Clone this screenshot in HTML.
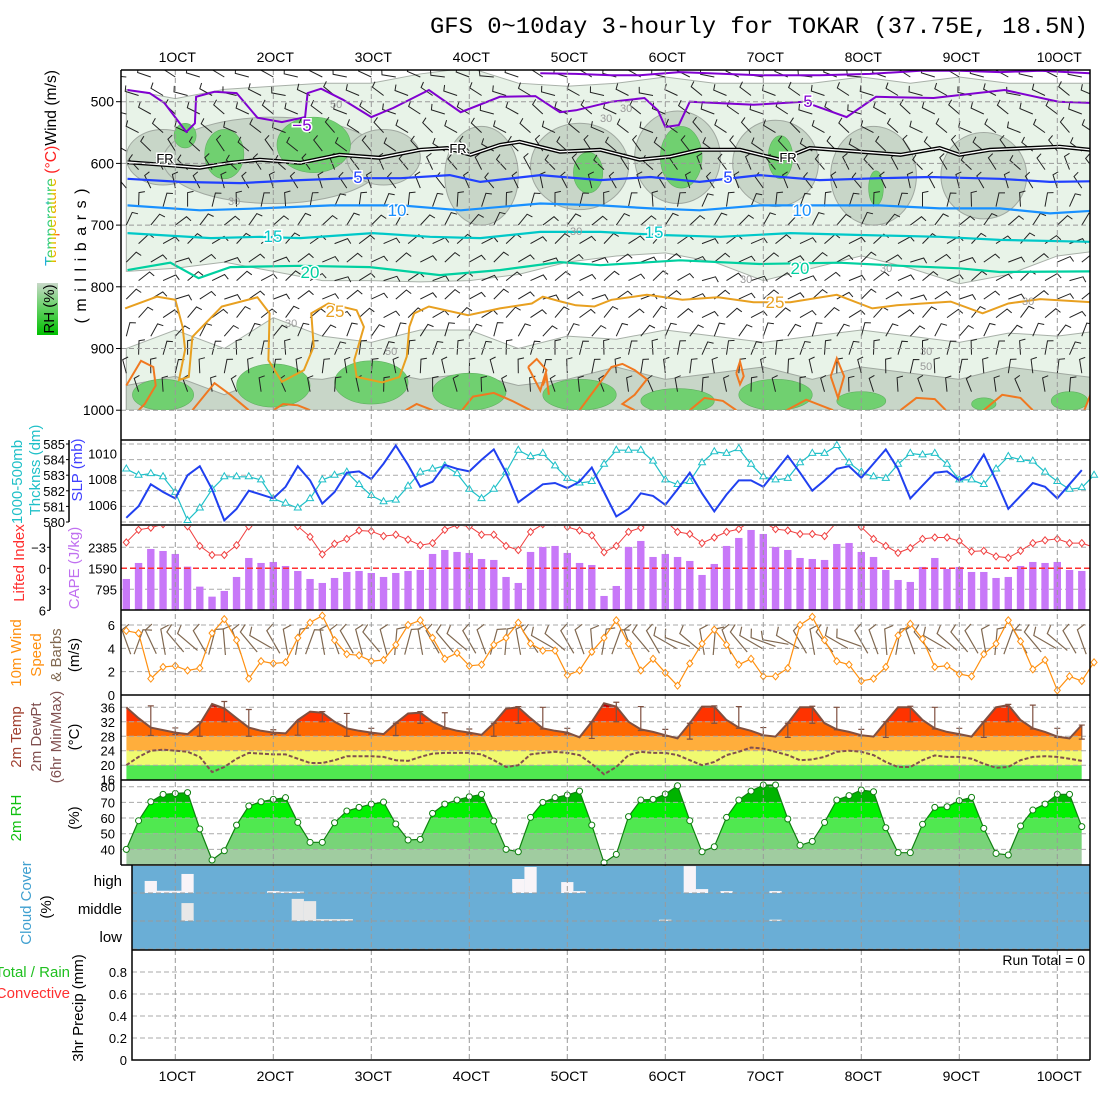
<!DOCTYPE html>
<html><head><meta charset="utf-8"><style>
html,body{margin:0;padding:0;background:#fff}
svg{display:block;font-family:"Liberation Sans",sans-serif}
</style></head><body>
<svg id="chart" width="1100" height="1100" viewBox="0 0 1100 1100" xmlns="http://www.w3.org/2000/svg">
<defs>
<clipPath id="c1"><rect x="121" y="70" width="969" height="340"/></clipPath>
<clipPath id="c3"><rect x="121" y="526" width="969" height="84"/></clipPath>
<linearGradient id="rhg" x1="0" x2="0" y1="1" y2="0"><stop offset="0" stop-color="#00c000"/><stop offset="0.5" stop-color="#60d060"/><stop offset="1" stop-color="#c8d8c8"/></linearGradient>
<linearGradient id="rainbow" x1="0" x2="0" y1="1" y2="0"><stop offset="0" stop-color="#ff3030"/><stop offset="0.25" stop-color="#ff9900"/><stop offset="0.45" stop-color="#c8d800"/><stop offset="0.65" stop-color="#30d070"/><stop offset="0.85" stop-color="#20b0e0"/><stop offset="1" stop-color="#3050ff"/></linearGradient>
</defs>
<rect width="1100" height="1100" fill="#fff"/>
<text x="430" y="33" font-family="Liberation Mono, monospace" font-size="23" textLength="658" lengthAdjust="spacingAndGlyphs">GFS 0~10day 3-hourly for TOKAR (37.75E, 18.5N)</text>
<g id="g1" clip-path="url(#c1)"></g>
<g id="g2"></g>
<g id="g3"></g>
<g id="g4"></g>
<g id="g5"></g>
<g id="g6"></g>
<g id="g7"></g>
<g id="g8"></g>
<g id="gx"></g>
<g id="gl">
 <rect x="37" y="283" width="21" height="52" fill="url(#rhg)"/>
 <text transform="rotate(-90 54 309)" x="54" y="309" text-anchor="middle" font-size="15">RH (%)</text>
 <text transform="rotate(-90 56 168)" x="56" y="168" text-anchor="middle" font-size="16" textLength="196" lengthAdjust="spacingAndGlyphs"><tspan fill="url(#rainbow)">Temperature</tspan><tspan fill="#ff2020"> (°C)</tspan><tspan fill="#000">Wind (m/s)</tspan></text>
 <text transform="rotate(-90 86 256)" x="86" y="256" text-anchor="middle" font-size="16" textLength="135" lengthAdjust="spacing">(millibars)</text>
 <text transform="rotate(-90 22 482)" x="22" y="482" text-anchor="middle" font-size="15" fill="#20c0c8">1000-500mb</text>
 <text transform="rotate(-90 40 470)" x="40" y="470" text-anchor="middle" font-size="15" fill="#20c0c8">Thcknss (dm)</text>
 <text transform="rotate(-90 82 470)" x="82" y="470" text-anchor="middle" font-size="15" fill="#4040ff">SLP (mb)</text>
 <text transform="rotate(-90 24 563)" x="24" y="563" text-anchor="middle" font-size="15" fill="#ff3030">Lifted Index</text>
 <text transform="rotate(-90 79 568)" x="79" y="568" text-anchor="middle" font-size="15" fill="#c070f0">CAPE (J/kg)</text>
 <text transform="rotate(-90 21 653)" x="21" y="653" text-anchor="middle" font-size="15" fill="#ff9010">10m Wind</text>
 <text transform="rotate(-90 41 655)" x="41" y="655" text-anchor="middle" font-size="15" fill="#ff9010">Speed</text>
 <text transform="rotate(-90 61 655)" x="61" y="655" text-anchor="middle" font-size="15" fill="#806850">&amp; Barbs</text>
 <text transform="rotate(-90 79 655)" x="79" y="655" text-anchor="middle" font-size="15">(m/s)</text>
 <text transform="rotate(-90 21 737)" x="21" y="737" text-anchor="middle" font-size="15" fill="#a04030">2m Temp</text>
 <text transform="rotate(-90 41 737)" x="41" y="737" text-anchor="middle" font-size="15" fill="#805050">2m DewPt</text>
 <text transform="rotate(-90 61 737)" x="61" y="737" text-anchor="middle" font-size="15" fill="#805050">(6hr Min/Max)</text>
 <text transform="rotate(-90 79 737)" x="79" y="737" text-anchor="middle" font-size="15">(°C)</text>
 <text transform="rotate(-90 21 818)" x="21" y="818" text-anchor="middle" font-size="15" fill="#10c010">2m RH</text>
 <text transform="rotate(-90 79 818)" x="79" y="818" text-anchor="middle" font-size="15">(%)</text>
 <text transform="rotate(-90 31 903)" x="31" y="903" text-anchor="middle" font-size="15" fill="#40a0d0">Cloud Cover</text>
 <text transform="rotate(-90 51 907)" x="51" y="907" text-anchor="middle" font-size="15">(%)</text>
 <text x="70" y="977" text-anchor="end" font-size="15" fill="#20c020">Total / Rain</text>
 <text x="70" y="998" text-anchor="end" font-size="15" fill="#ff3030">Convective</text>
 <text transform="rotate(-90 83 1008)" x="83" y="1008" text-anchor="middle" font-size="15">3hr Precip (mm)</text>
 <text x="1085" y="965" text-anchor="end" font-size="14">Run Total = 0</text>
</g>
</svg>
<script>
// ---- data ----
const dayLabels = ["1OCT","2OCT","3OCT","4OCT","5OCT","6OCT","7OCT","8OCT","9OCT","10OCT"];
const slp = [1005.0,1005.9,1007.6,1007.0,1006.5,1008.3,1009.0,1007.2,1004.8,1005.7,1007.1,1006.8,1006.5,1007.4,1009.0,1007.9,1006.1,1007.0,1008.5,1008.6,1008.0,1009.2,1010.6,1009.1,1007.4,1007.8,1009.1,1008.8,1008.6,1009.5,1010.3,1008.5,1006.2,1006.9,1007.6,1007.7,1007.3,1007.8,1008.9,1007.0,1005.1,1005.7,1006.9,1006.7,1006.0,1007.2,1008.5,1006.9,1005.5,1006.8,1007.9,1007.9,1007.4,1008.6,1009.8,1008.5,1007.1,1007.9,1008.8,1009.0,1008.1,1009.2,1010.3,1008.8,1006.5,1007.5,1008.5,1008.6,1007.9,1008.4,1009.9,1007.9,1005.7,1006.7,1007.7,1007.4,1006.5,1007.6,1008.7];
const thick = [583.4,583.0,583.1,582.9,581.9,580.1,580.9,582.1,582.9,582.9,582.9,582.7,581.5,581.2,580.9,581.5,582.7,583.0,583.2,582.4,581.7,581.3,581.4,582.3,583.2,583.4,583.6,583.1,582.1,581.5,582.1,583.2,584.6,584.2,584.4,583.6,582.8,582.5,582.6,583.7,584.6,584.6,584.6,583.9,582.7,582.4,582.6,583.8,584.5,584.4,584.7,583.7,582.9,582.7,582.8,583.8,584.4,584.4,584.9,583.8,583.2,582.9,582.8,583.7,584.4,584.3,584.4,583.7,582.7,582.7,582.4,583.4,584.2,584.0,583.9,583.2,582.6,582.1,582.2,583.0];
const cape = [1186,1792,2322,2246,2133,1653,896,517,732,1262,1981,1792,1830,1678,1489,1186,1035,1224,1451,1489,1413,1262,1413,1489,1527,2133,2284,2209,2171,1943,1906,1262,1035,2209,2398,2436,2171,1792,1716,543,921,2398,2625,2019,2133,2019,1868,1338,1754,2436,2739,3041,2890,2398,2284,1981,1943,1906,2511,2549,2209,2019,1527,1148,1073,1641,1981,1565,1641,1451,1451,1224,1262,1678,1830,1792,1830,1527,1489];
const liftedIndex = [-3.7,-5.5,-5.8,-6.3,-6.6,-6.0,-3.2,-1.9,-1.9,-3.3,-6.0,-6.8,-6.8,-6.8,-6.0,-4.5,-2.0,-3.5,-4.2,-5.4,-5.3,-4.6,-4.8,-4.1,-3.3,-3.6,-5.5,-6.2,-6.0,-4.8,-4.8,-3.2,-2.6,-5.2,-6.3,-6.6,-5.9,-5.4,-4.7,-2.3,-3.2,-5.2,-5.8,-6.8,-6.8,-5.2,-4.9,-3.6,-4.4,-5.2,-5.6,-6.8,-6.6,-5.6,-5.4,-4.9,-4.9,-4.6,-6.6,-6.6,-5.9,-4.2,-3.2,-2.2,-2.9,-4.2,-4.4,-4.4,-3.9,-2.4,-2.5,-1.7,-1.5,-2.5,-3.6,-4.0,-4.2,-3.6,-3.6,-3.0];
const windSpeed = [5.5,5.3,1.4,2.4,2.5,2.1,2.3,5.3,6.5,4.7,1.4,2.9,2.7,2.8,4.9,6.2,6.8,4.7,3.5,3.4,2.9,3.0,4.3,6.0,6.4,4.9,3.1,3.6,2.5,2.6,4.3,4.9,6.2,4.4,3.8,3.8,1.7,2.1,3.7,4.9,6.4,4.4,2.1,3.1,1.9,0.8,2.7,4.4,5.6,4.3,2.6,3.1,1.6,1.6,2.3,6.0,6.7,4.7,2.9,2.6,1.2,1.4,2.4,5.1,6.1,4.8,2.4,2.5,1.8,1.6,3.5,4.4,6.4,4.6,2.2,3.0,0.4,1.6,1.2,2.8];
const windDir = [340,20,335,350,320,310,330,15,355,340,320,300,330,350,10,20,350,340,330,345,320,345,5,15,350,330,320,310,330,340,15,5,350,325,300,310,330,340,355,10,20,340,320,330,300,290,310,350,5,340,320,300,290,280,300,330,350,320,300,290,330,340,355,10,340,320,300,310,320,330,350,5,20,330,320,300,310,330,340];
const temp2m = [36,33,30.4,29.7,29,28.6,31.4,36.9,35.7,33,30.4,29.5,29,28.8,32.5,34.8,34.5,32,30.2,29.5,29,28.6,31.6,34.3,34.5,32,30.4,29.5,29,28.4,31.6,35.6,36,33,30.2,29.5,29,27.7,32,37.1,36.2,32,29.9,29.2,28.3,27.4,31.6,36.2,36.2,32.5,30.4,29.5,28.3,27.9,31.6,36,36,31.6,29.9,29.2,28.3,27.9,32,36,36,32.5,30.2,29.2,28.6,27.9,32,36,36.6,32.5,30.2,29.2,27.9,27.4,31.1];
const dewpt2m = [20,22.3,24,24.3,24,23.7,22.3,18.1,19.5,21.8,23.4,23.2,23,23,21.8,20.6,20.6,21.4,22.5,22.5,22.5,22.3,21.4,21.2,22.3,23.2,23.4,23.4,23.4,23,21.4,19.5,20,23,23.4,23.7,23.4,22.8,20.4,17.5,19.5,22.8,23.7,23.4,23.4,22.8,21.4,20,20.9,22.8,23.7,24.9,24.6,23.7,22.8,21.4,21.6,22.3,23.7,24,23.7,22.8,20.9,19.5,19.5,21.4,22.7,22.3,22.3,21.8,20.4,19.3,19.5,21.4,22.3,22.5,22.3,21.8,21.2];
const tmax6 = [36.4,30.3,32,37.6,35.4,29.8,32,34.8,34.3,30.2,31.6,34.8,34.5,30,31.6,36.2,36,30.2,32,37.4,36.2,29.9,31.6,36.4,36.2,30.4,31.6,36.3,36,29.9,32,36.3,36,30.2,32,36.8,36.6,30.2,31.1];
const tmin6 = [28.2,28.5,28,32,28,28.5,28.3,32,28,28.6,28.2,31.6,30,28.6,28,31.6,30,28.6,27.4,32,29.6,28,27.2,31.6,30.2,28.2,27.7,31.6,29.8,28.1,27.7,32,30,28.4,27.7,32,30,27.7,27.2];
const rh2m = [40,58.3,70.4,75.1,75.7,76.2,53,33.2,39.1,55.5,67.7,70.4,71.9,73,57.2,44.5,44.5,57,64.5,66.8,68.9,70.2,56.2,46,46.4,63,68.9,71.5,73.6,75.1,58.1,40,38.5,60.4,70,73,74.7,77.2,55.5,31.5,36.8,60.9,71.5,71.9,75.3,80.6,58.3,38.5,41.7,60.4,71.5,77.2,81.1,81.1,59.4,42.6,45.1,57.2,71.5,74.3,77.9,76.8,53.8,37.9,37.9,56,66.8,67.2,71.1,73.2,53.4,37.4,36.4,54.9,65.1,68.9,75.1,75.1,54.5];
const cloudHigh = [0,0,43,8,8,68,0,0,0,0,0,0,7,5,5,0,0,0,0,0,0,0,0,0,0,0,0,0,0,0,0,0,50,93,0,0,39,7,0,0,0,0,0,0,0,0,96,14,0,7,0,0,0,7,0,0,0,0,0,0,0,0,0,0,0,0,0,0,0,0,0,0,0,0,0,0,0,0,0];
const cloudMid = [0,0,0,0,0,64,0,0,0,0,0,0,0,0,79,71,7,7,7,0,0,0,0,0,0,0,0,0,0,0,0,0,0,0,0,0,0,0,0,0,0,0,0,0,5,0,0,0,0,0,0,0,0,5,0,0,0,0,0,0,0,0,0,0,0,0,0,0,0,0,0,0,0,0,0,0,0,0,0];
const cloudLow = [0,0,0,0,0,0,0,0,0,0,0,0,0,0,0,0,0,0,0,0,0,0,0,0,0,0,0,0,0,0,0,0,0,0,0,0,0,0,0,0,0,0,0,0,0,0,0,0,0,0,0,0,0,0,0,0,0,0,0,0,0,0,0,0,0,0,0,0,0,0,0,0,0,0,0,0,0,0,0];
const precip = [0,0,0,0,0,0,0,0,0,0,0,0,0,0,0,0,0,0,0,0,0,0,0,0,0,0,0,0,0,0,0,0,0,0,0,0,0,0,0,0,0,0,0,0,0,0,0,0,0,0,0,0,0,0,0,0,0,0,0,0,0,0,0,0,0,0,0,0,0,0,0,0,0,0,0,0,0,0,0];
const isoM10 = [[33.8,454],[36.7,455],[39.6,457],[41.9,457],[45.2,452],[51.7,457],[56.6,457],[60.7,455],[64.8,450],[68,450],[71.3,452],[74.6,450],[78.7,454]];
const isoM5 = [[0.1,481],[1.9,486],[3.1,502],[4.9,549],[5.6,535],[5.7,492],[7.2,484],[9.0,486],[10.7,526],[12.7,533],[14.6,525],[14.8,486],[15.9,479],[17.7,497],[20.0,525],[21.8,510],[24.7,481],[27.3,517],[30.5,492],[33.4,491],[35.4,517],[36.7,514],[39.6,500],[42.3,494],[43.4,514],[44.0,541],[45.1,538],[46.0,500],[51.2,505],[55.3,500],[58.8,525],[61.2,492],[65.9,494],[71.7,481],[76.1,500],[78.7,502]];
const isoFR = [[0.1,598],[3.6,603],[6.0,607],[8.5,599],[10.9,594],[14.2,599],[17.4,586],[20.7,591],[24,578],[26.2,575],[28.1,586],[30.5,570],[32.1,565],[35.4,581],[38.7,578],[41.9,594],[44.4,589],[46.8,578],[50.1,578],[53.4,594],[55.8,575],[59.9,581],[63.2,586],[66.4,575],[68,586],[70.5,578],[73.8,575],[76.2,573],[78.7,578]];
const iso5 = [[0.1,625],[4.4,630],[9.3,632],[14.2,627],[18.3,624],[22.4,624],[26.4,619],[28.9,630],[33.8,619],[38.7,627],[42.8,622],[46.8,630],[51.7,619],[56.6,627],[61.5,624],[65.6,622],[71.3,625],[75.4,630],[78.7,629]];
const iso10 = [[0.1,668],[6,676],[10.9,673],[16.7,668],[22.4,668],[27.3,676],[33.8,665],[38.7,668],[42.8,673],[46.8,676],[51.7,668],[56.6,668],[61.5,668],[66.4,673],[71.3,673],[75.4,681],[78.7,677]];
const iso15 = [[0.1,713],[6.9,721],[10.9,719],[14.2,721],[20.1,713],[24.8,719],[28.9,721],[33.8,711],[38.7,711],[43.6,716],[48.5,719],[54.2,713],[59.9,716],[66.4,719],[71.3,724],[78.7,727]];
const iso20 = [[0.1,773],[3.6,761],[5.9,786],[8.5,768],[14.2,766],[19.9,768],[25.6,781],[30.5,773],[35.4,760],[38.7,765],[45.2,757],[51.7,763],[58.2,761],[63.2,766],[68,770],[71.3,776],[78.7,775]];
const iso25 = [[-0.1,835],[2.5,816],[4,821],[4.6,865],[4.8,902],[4.3,951],[5.1,946],[5.4,881],[7.8,832],[10.7,817],[11.7,843],[11.6,919],[12.7,954],[14.5,935],[15.3,897],[15.1,843],[16.5,827],[18.8,838],[19.4,865],[18.6,919],[18.8,946],[20.9,955],[22.3,946],[22.9,913],[23.1,865],[23.5,843],[24.7,832],[27.9,846],[30.5,835],[33.1,827],[34,816],[35.5,824],[36.7,830],[38.2,832],[39.6,821],[42.5,813],[45.4,821],[48.3,817],[51.2,825],[54.2,825],[58,813],[60.9,835],[62.9,830],[67.3,824],[69.9,843],[72,827],[74.6,820],[78.7,825]];
const iso30 = [
 [[0,960],[1.2,920],[2.2,930],[2.4,960],[1.5,990],[1,1000]],
 [[5.4,1000],[7.2,956],[8.5,975],[10,1000]],
 [[12,1000],[12.8,990],[14,992],[15,1000]],
 [[22.8,1000],[23.7,990],[25,1000]],
 [[27.4,1000],[28.3,978],[30,972],[31.5,985],[33,1000]],
 [[32.8,930],[33.5,917],[34.3,935],[33.8,968],[32.8,930]],
 [[34,960],[34.3,945],[34.5,975]],
 [[37,1000],[38.5,960],[39.6,930],[40.5,925],[41.5,935],[42.5,950],[41.5,975],[40.5,990],[41.5,1000]],
 [[46,1000],[47.2,980],[48.7,985],[49.8,1000]],
 [[49.8,940],[50.1,921],[50.4,945],[50.1,958],[49.8,940]],
 [[53.9,1000],[55.5,983],[57.7,1000]],
 [[57.5,945],[58,916],[58.6,945],[58.1,980],[57.5,945]],
 [[63.2,1000],[64.5,980],[66,982],[66.9,1000]],
 [[70,1000],[71.5,975],[73,980],[74,1000]],
 [[78.2,1000],[78.7,975]]
];
const rhSampleS = [0,4,8,12,16,20,24,28,32,36,40,44,48,52,56,60,64,68,72,76,80];
const rh30UpTop = [480,495,480,475,470,470,455,445,470,475,470,460,470,470,470,460,470,460,470,470,470];
const rh30UpBot = [775,770,760,775,790,790,792,790,780,760,750,745,760,790,770,750,770,795,780,750,740];
const rh30LoTop = [900,870,900,850,880,890,870,870,900,880,885,870,880,890,880,870,880,890,875,880,870];
const rh50LoTop = [960,945,975,945,950,935,950,940,960,950,930,950,940,930,950,930,940,950,930,940,950];
const rh50S = [3,12,21,29,37,45,53,61,70];
const rh50P = [590,595,590,620,605,590,600,620,620];
const rh50W = [3,9,3,3,4,3.5,3.5,3.5,3.5];
const rh50H = [45,70,45,80,70,75,70,80,70];
const rh70S = [4.8,8,15.3,37.7,45.3,53.4,61.2,3,12,20,28,37,45,53,60,70,77];
const rh70P = [555,585,570,615,590,590,640,975,960,955,970,975,985,975,985,990,985];
const rh70W = [0.9,1.6,3,1.2,1.7,1,0.6,2.5,3,3,3,3,3,3,2,1,1.5];
const rh70H = [20,40,45,33,50,35,28,25,35,35,30,25,20,25,15,10,15];
const barbRowsP = [460,490,520,550,580,610,640,670,700,730,760,790,820,850,880,910,940,970];
const barbRowsDir = [290,295,300,305,315,325,335,10,40,55,60,60,60,50,30,10,0,350];

// ---- helpers ----
const NS = "http://www.w3.org/2000/svg";
function el(tag, attrs, parent){const e=document.createElementNS(NS,tag);for(const k in attrs)e.setAttribute(k,attrs[k]);parent.appendChild(e);return e;}
const X = i => 126.3 + 12.25*i;
const YP = p => 101.7 + (p-500)*0.617;
const Yth = v => 444 + (585-v)*15.6;
const Yslp = v => 453.3 - (v-1010)*12.9;
const Ycape = v => 610.3 - v*21/795;
const Yli = v => 568.3 + v*7;
const Yws = v => 695 - v*11.67;
const Yt = v => 707.3 + (36-v)*3.62;
const Yrh = v => 786.7 + (80-v)*1.567;
const Ypr = v => 1060 - v*110;
const g1=document.getElementById('g1'),g2=document.getElementById('g2'),g3=document.getElementById('g3'),g4=document.getElementById('g4'),g5=document.getElementById('g5'),g6=document.getElementById('g6'),g7=document.getElementById('g7'),g8=document.getElementById('g8'),gx=document.getElementById('gx');
const ptsStr = (arr, fy) => arr.map((v,i)=>X(i).toFixed(1)+','+fy(v).toFixed(1)).join(' ');
const spStr = arr => arr.map(a=>X(a[0]).toFixed(1)+','+YP(a[1]).toFixed(1)).join(' ');

// ---- panel 1 ----
{
 let up = rhSampleS.map((s,k)=>X(s)+','+YP(rh30UpTop[k])).join(' ')+' '+rhSampleS.slice().reverse().map((s,k)=>X(s)+','+YP(rh30UpBot[rh30UpBot.length-1-k])).join(' ');
 let e=el('polygon',{points:up,fill:'#e8f3e8',stroke:'#a8b0a8','stroke-width':1},g1);
  
 let lo = rhSampleS.map((s,k)=>X(s)+','+YP(rh30LoTop[k])).join(' ')+' '+X(80)+','+YP(1000)+' '+X(0)+','+YP(1000);
 e=el('polygon',{points:lo,fill:'#e8f3e8',stroke:'#a8b0a8','stroke-width':1},g1);
  
 let lo5 = rhSampleS.map((s,k)=>X(s)+','+YP(rh50LoTop[k])).join(' ')+' '+X(80)+','+YP(1000)+' '+X(0)+','+YP(1000);
 e=el('polygon',{points:lo5,fill:'#c8d6c8',stroke:'#a0a8a0','stroke-width':1},g1);
  
 rh50S.forEach((s,k)=>{const b=el('ellipse',{cx:X(s),cy:YP(rh50P[k]),rx:rh50W[k]*12.25,ry:rh50H[k]*0.617,fill:'#c8d6c8',stroke:'#a0a8a0','stroke-width':1},g1);
   });
 rh70S.forEach((s,k)=>{const b=el('ellipse',{cx:X(s),cy:YP(rh70P[k]),rx:rh70W[k]*12.25,ry:rh70H[k]*0.617,fill:'#70d070',stroke:'#60b060','stroke-width':0.6},g1);
   });
 el('rect',{x:121,y:YP(1000),width:969,height:40,fill:'#fff'},g1);
 barbRowsP.forEach((p,r)=>{
  for(let i=(r%2);i<80;i+=2){
   const x=X(i), y=YP(p);
   const d=(barbRowsDir[r]+((i*37)%30)-15)*Math.PI/180;
   const dx=Math.sin(d), dy=-Math.cos(d);
   const x2=x+dx*14, y2=y+dy*14;
   const a=d+Math.PI/2.3;
   const b=el('path',{d:`M${x.toFixed(1)},${y.toFixed(1)}L${x2.toFixed(1)},${y2.toFixed(1)}l${(Math.sin(a)*6).toFixed(1)},${(-Math.cos(a)*6).toFixed(1)}`,stroke:'#222',fill:'none','stroke-width':1},g1);
    
  }
 });
 const iso=[[isoM10,'#8000d0',2,'isotherm-minus10'],[isoM5,'#8000d0',2,'isotherm-minus5'],[iso5,'#2040ff',2.2,'isotherm-5'],[iso10,'#1890ff',2.2,'isotherm-10'],[iso15,'#00c8c8',2.2,'isotherm-15'],[iso20,'#00d0a0',2.2,'isotherm-20'],[iso25,'#e8a020',2,'isotherm-25']];
 iso.forEach(([arr,c,w,n])=>{const l=el('polyline',{points:spStr(arr),fill:'none',stroke:c,'stroke-width':w},g1);
   });
 iso30.forEach(seg=>{const l=el('polyline',{points:spStr(seg),fill:'none',stroke:'#f07820','stroke-width':2},g1);
   });
 let f=el('polyline',{points:spStr(isoFR),fill:'none',stroke:'#000','stroke-width':4},g1);
  
 el('polyline',{points:spStr(isoFR),fill:'none',stroke:'#fff','stroke-width':1.3},g1);
 const labs=[[-5,302,131,'#8000d0'],[5,808,107,'#8000d0'],['FR',165,163,'#000'],['FR',458,153,'#000'],['FR',788,162,'#000'],[5,358,183,'#2040ff'],[5,728,183,'#2040ff'],[10,397,216,'#1890ff'],[10,802,216,'#1890ff'],[15,273,242,'#00c8c8'],[15,654,238,'#00c8c8'],[20,310,278,'#00d0a0'],[20,800,274,'#00d0a0'],[25,335,317,'#e8a020'],[25,775,308,'#e8a020']];
 labs.forEach(([t,x,y,c])=>{const tx=el('text',{x:x,y:y,'text-anchor':'middle','font-size':(t==='FR'?13:17),fill:c,stroke:'#fff','stroke-width':3,'paint-order':'stroke'},g1);tx.textContent=(t===-5?'\u22125':t);
   });
 [[620,112,'30'],[330,108,'50'],[228,205,'30'],[600,122,'30'],[570,235,'30'],[880,272,'30'],[740,283,'30'],[1022,305,'30'],[285,327,'30'],[385,355,'50'],[920,355,'30'],[920,370,'50']].forEach(([x,y,t])=>{
  const tx=el('text',{x:x,y:y,'font-size':11,fill:'#999'},g1);tx.textContent=t;
   });
}

// ---- panel 2 ----
{
 [580,581,582,583,584,585].forEach(v=>el('line',{x1:121,x2:1090,y1:Yth(v),y2:Yth(v),stroke:'#aaa','stroke-dasharray':'5,3'},g2));
 let l=el('polyline',{points:ptsStr(thick,Yth),fill:'none',stroke:'#20c0c8','stroke-width':1.2},g2);
  
 thick.forEach((v,i)=>{const m=el('path',{d:`M${X(i)},${Yth(v)-4}l3.5,6h-7z`,fill:'#fff',stroke:'#20c0c8','stroke-width':1},g2);
   });
 l=el('polyline',{points:ptsStr(slp,Yslp),fill:'none',stroke:'#2040f0','stroke-width':2},g2);
  
}
// ---- panel 3 ----
{
 [-3,3].forEach(v=>el('line',{x1:121,x2:1090,y1:Yli(v),y2:Yli(v),stroke:'#aaa','stroke-dasharray':'5,3'},g3));
 cape.forEach((v,i)=>{const r=el('rect',{x:X(i)-3.7,y:Ycape(v),width:7.4,height:610.3-Ycape(v),fill:'#c878f8'},g3);
   });
 el('line',{x1:121,x2:1090,y1:Yli(0),y2:Yli(0),stroke:'#ff3030','stroke-width':1.5,'stroke-dasharray':'6,3'},g3);
 const cg=el('g',{'clip-path':'url(#c3)'},g3);
 let l=el('polyline',{points:ptsStr(liftedIndex,Yli),fill:'none',stroke:'#f04040','stroke-width':1},cg);
  
 liftedIndex.forEach((v,i)=>{const m=el('path',{d:`M${X(i)},${Yli(v)-3.5}l3,3.5l-3,3.5l-3,-3.5z`,fill:'#fff',stroke:'#f04040','stroke-width':1},cg);
   });
}
// ---- panel 4 ----
{
 [2,4,6].forEach(v=>el('line',{x1:121,x2:1090,y1:Yws(v),y2:Yws(v),stroke:'#aaa','stroke-dasharray':'5,3'},g4));
 windDir.forEach((dv,i)=>{
  const d=dv*Math.PI/180, x=X(i)+Math.sin(d)*-13, y=642-Math.cos(d)*-13;
  const x2=x+Math.sin(d)*26, y2=y-Math.cos(d)*26, a=d+Math.PI/2.5;
  const b=el('path',{d:`M${x.toFixed(1)},${y.toFixed(1)}L${x2.toFixed(1)},${y2.toFixed(1)}l${(Math.sin(a)*9).toFixed(1)},${(-Math.cos(a)*9).toFixed(1)}`,stroke:'#806850',fill:'none','stroke-width':1.2},g4);
   });
 let l=el('polyline',{points:ptsStr(windSpeed,Yws),fill:'none',stroke:'#ff9010','stroke-width':1.2},g4);
  
 windSpeed.forEach((v,i)=>{const m=el('path',{d:`M${X(i)},${Yws(v)-3.5}l3,3.5l-3,3.5l-3,-3.5z`,fill:'#fff',stroke:'#ff9010','stroke-width':1},g4);
   });
}
// ---- panel 5 ----
{
 const cp=el('clipPath',{id:'ctemp'},document.querySelector('defs'));
 el('polygon',{points:ptsStr(temp2m,Yt)+` ${X(78)},780 ${X(0)},780`},cp);
 const bands=[[36,42,'#c00000'],[32,36,'#ff3300'],[28,32,'#ff6600'],[24,28,'#ffae3c'],[20,24,'#f0fa70'],[16,20,'#50e850']];
 const bg=el('g',{'clip-path':'url(#ctemp)'},g5);
 bands.forEach(([lo,hi,c])=>{const r=el('rect',{x:X(0),y:Yt(hi),width:X(78)-X(0),height:Yt(lo)-Yt(hi),fill:c},bg);
   });
 [20,24,28,32,36].forEach(v=>el('line',{x1:121,x2:1090,y1:Yt(v),y2:Yt(v),stroke:'#aaa','stroke-dasharray':'5,3'},g5));
 let l=el('polyline',{points:ptsStr(temp2m,Yt),fill:'none',stroke:'#805040','stroke-width':2},g5);
  
 l=el('polyline',{points:ptsStr(dewpt2m,Yt),fill:'none',stroke:'#805050','stroke-width':2,'stroke-dasharray':'4,2'},g5);
  
 tmax6.forEach((v,k)=>{const x=X(2+2*k),y1=Yt(v),y2=Yt(tmin6[k]);
  const b=el('path',{d:`M${x},${y1}V${y2}M${x-3},${y1}h6M${x-3},${y2}h6`,stroke:'#805040','stroke-width':1.2,fill:'none'},g5);
   });
}
// ---- panel 6 ----
{
 const cp=el('clipPath',{id:'crh'},document.querySelector('defs'));
 el('polygon',{points:ptsStr(rh2m,Yrh)+` ${X(78)},865 ${X(0)},865`},cp);
 const bands=[[80,100,'#009000'],[70,80,'#00b400'],[60,70,'#00f000'],[50,60,'#50e850'],[40,50,'#78d478'],[0,40,'#a0cca0']];
 const bg=el('g',{'clip-path':'url(#crh)'},g6);
 bands.forEach(([lo,hi,c])=>{const y1=Math.max(780,Yrh(hi)),y2=Math.min(865,Yrh(lo));const r=el('rect',{x:X(0),y:y1,width:X(78)-X(0),height:y2-y1,fill:c},bg);
   });
 [40,50,60,70,80].forEach(v=>el('line',{x1:121,x2:1090,y1:Yrh(v),y2:Yrh(v),stroke:'#aaa','stroke-dasharray':'5,3'},g6));
 let l=el('polyline',{points:ptsStr(rh2m,Yrh),fill:'none',stroke:'#108010','stroke-width':1.2},g6);
  
 rh2m.forEach((v,i)=>{const m=el('circle',{cx:X(i),cy:Yrh(v),r:3,fill:'#fff',stroke:'#108010','stroke-width':1},g6);
   });
}
// ---- panel 7 ----
{
 const r=el('rect',{x:132,y:866,width:958,height:84,fill:'#6aaed6'},g7);
  
 [[cloudHigh,893,'#f8f4f8','cloud-high-bar'],[cloudMid,921,'#e8e8e8','cloud-mid-bar'],[cloudLow,949,'#e8e8e8','cloud-low-bar']].forEach(([arr,base,c,n])=>{
  arr.forEach((v,i)=>{if(v<=0)return;const h=v*0.28;const b=el('rect',{x:X(i)-6.125,y:base-h,width:12.25,height:h,fill:c},g7);
    });});
 [893,921,949].forEach(y=>el('line',{x1:132,x2:1090,y1:y,y2:y,stroke:'#999','stroke-dasharray':'5,3'},g7));
 [['high',881],['middle',909],['low',937]].forEach(([t,y])=>{const tx=el('text',{x:122,y:y+5,'text-anchor':'end','font-size':15},g7);tx.textContent=t;
   });
}
// ---- panel 8 ----
{
 [0.2,0.4,0.6,0.8].forEach(v=>el('line',{x1:132,x2:1090,y1:Ypr(v),y2:Ypr(v),stroke:'#aaa','stroke-dasharray':'5,3'},g8));
 precip.forEach((v,i)=>{if(v<=0)return;const b=el('rect',{x:X(i)-4,y:Ypr(v),width:8,height:1060-Ypr(v),fill:'#20c020'},g8);
   });
 [0,0.2,0.4,0.6,0.8].forEach(v=>{const tx=el('text',{x:127,y:Ypr(v)+5,'text-anchor':'end','font-size':13},g8);tx.textContent=v===0?'0':String(v);
   });
}
// ---- axes ----
{
 dayLabels.forEach((t,k)=>{const x=X(4)+98*k;
  el('line',{x1:x,x2:x,y1:70,y2:1060,stroke:'#999','stroke-dasharray':'5,3'},gx);
  let tx=el('text',{x:x+2,y:62,'text-anchor':'middle','font-size':14},gx);tx.textContent=t;
   
  tx=el('text',{x:x+2,y:1081,'text-anchor':'middle','font-size':14},gx);tx.textContent=t;
   });
 [500,600,700,800,900,1000].forEach(p=>el('line',{x1:121,x2:1090,y1:YP(p),y2:YP(p),stroke:'#999','stroke-dasharray':'5,3'},gx));
 [500,600,700,800,900,1000].forEach(p=>{const tx=el('text',{x:114,y:YP(p)+5,'text-anchor':'end','font-size':14},gx);tx.textContent=p;
   
  el('line',{x1:116,x2:121,y1:YP(p),y2:YP(p),stroke:'#000'},gx);});
 const fr=el('path',{d:'M121,70H1090V1060M121,70V865M132,865V1060H1090M121,440H1090M121,525H1090M121,610H1090M121,695H1090M121,780H1090M121,865H1090M132,950H1090M69,440V522M50,526V610',stroke:'#000','stroke-width':1.5,fill:'none'},gx);
  
 const tick=(arr,fy,xr,n,fmt)=>arr.forEach(v=>{const tx=el('text',{x:xr,y:fy(v)+5,'text-anchor':'end','font-size':13},gx);tx.textContent=fmt?fmt(v):v;
   });
 tick([580,581,582,583,584,585],Yth,65,'thickness-tick');
 [580,581,582,583,584,585].forEach(v=>el('line',{x1:66,x2:69,y1:Yth(v),y2:Yth(v),stroke:'#000'},gx));
 tick([1006,1008,1010],Yslp,117,'slp-tick');
 tick([-3,0,3,6],Yli,46,'li-tick',v=>v<0?'\u22123':String(v));
 [-3,0,3,6].forEach(v=>el('line',{x1:47,x2:50,y1:Yli(v),y2:Yli(v),stroke:'#000'},gx));
 tick([795,1590,2385],Ycape,117,'cape-tick');
 tick([0,2,4,6],Yws,115,'wind-tick');
 tick([16,20,24,28,32,36],Yt,115,'temp-tick');
 tick([40,50,60,70,80],Yrh,115,'rh-tick');
}
</script>
</body></html>
